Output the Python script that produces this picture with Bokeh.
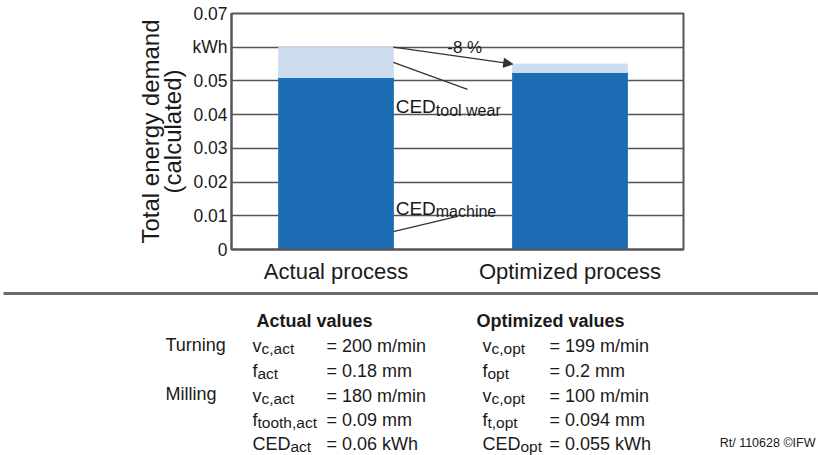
from bokeh.plotting import figure
from bokeh.models import Range1d, FixedTicker, Arrow, NormalHead
from bokeh.layouts import column
from bokeh.embed import file_html
from bokeh.resources import INLINE
from bokeh.core.properties import value

# ---------------- data ----------------
processes = ["Actual process", "Optimized process"]
ced_machine = [0.051, 0.0525]
ced_tool_wear = [0.009, 0.0025]
y_ticks = [0, 0.01, 0.02, 0.03, 0.04, 0.05, 0.06, 0.07]
y_tick_labels = ["0", "0.01", "0.02", "0.03", "0.04", "0.05", "kWh", "0.07"]
reduction_label = "-8 %"

row_labels = ["Turning", "", "Milling", "", ""]
act_sym = ["v", "f", "v", "f", "CED"]
act_sub = ["c,act", "act", "c,act", "tooth,act", "act"]
act_val = ["= 200 m/min", "= 0.18 mm", "= 180 m/min", "= 0.09 mm", "= 0.06 kWh"]
opt_sym = ["v", "f", "v", "f", "CED"]
opt_sub = ["c,opt", "opt", "c,opt", "t,opt", "opt"]
opt_val = ["= 199 m/min", "= 0.2 mm", "= 100 m/min", "= 0.094 mm", "= 0.055 kWh"]
headers = ["Actual values", "Optimized values"]
credit = "Rt/ 110628 \u00a9IFW"

# ---------------- style ----------------
FONT = "Liberation Sans"
INK = "#1a1a1a"
GRID = "#555555"
DARK = "#1c6db4"
LIGHT = "#cedcf0"
EM = {"v": 0.5, "f": 0.278, "CED": 2.111}

xs = list(range(len(processes)))
totals = [m + t for m, t in zip(ced_machine, ced_tool_wear)]
bar_w = 0.49

# ---------------- chart ----------------
W = 818
CH = 290
p = figure(width=W, height=CH, x_range=Range1d(-0.4466, 1.485), y_range=Range1d(0, 0.07),
           output_backend="svg", toolbar_location=None,
           min_border_left=231, min_border_right=135, min_border_top=13, min_border_bottom=41)
p.outline_line_color = GRID
p.outline_line_width = 2

p.vbar(x=xs, width=bar_w, bottom=0, top=ced_machine, fill_color=DARK, line_color=DARK)
p.vbar(x=xs, width=bar_w, bottom=ced_machine, top=totals, fill_color=LIGHT, line_color=LIGHT)

p.yaxis.ticker = FixedTicker(ticks=y_ticks)
p.yaxis.major_label_overrides = dict(zip(y_ticks, y_tick_labels))
p.ygrid.ticker = FixedTicker(ticks=y_ticks)
p.ygrid.grid_line_color = GRID
p.ygrid.grid_line_width = 1.5
p.xgrid.visible = False
p.xaxis.ticker = FixedTicker(ticks=xs)
p.xaxis.major_label_overrides = dict(zip(xs, processes))

for ax in p.axis:
    ax.axis_line_color = GRID
    ax.axis_line_width = 2
    ax.major_tick_line_color = None
    ax.minor_tick_line_color = None
    ax.major_tick_out = 0
    ax.major_tick_in = 0
    ax.minor_tick_out = 0
    ax.minor_tick_in = 0
    ax.major_label_text_font = FONT
    ax.major_label_text_color = INK
p.yaxis.major_label_text_font_size = "17.5px"
p.yaxis.major_label_standoff = 4
p.xaxis.major_label_text_font_size = "22px"
p.xaxis.major_label_standoff = 9
p.yaxis.axis_label = "Total energy demand\n(calculated)"
p.yaxis.axis_label_text_font = FONT
p.yaxis.axis_label_text_font_size = "24px"
p.yaxis.axis_label_text_font_style = "normal"
p.yaxis.axis_label_text_color = INK
p.yaxis.axis_label_text_line_height = 0.8
p.yaxis.axis_label_standoff = 4

# reduction arrow between bar tops
x_right0 = xs[0] + bar_w / 2
x_left1 = xs[1] - bar_w / 2
p.add_layout(Arrow(end=NormalHead(size=9, fill_color="#333333", line_color="#333333", line_width=1),
                   x_start=x_right0, y_start=totals[0], x_end=x_left1, y_end=totals[1],
                   line_color="#333333", line_width=1.3))
p.text(x=[0.55], y=[totals[0]], text=[reduction_label], text_font=value(FONT), text_font_size="17px",
       text_align="center", text_baseline="alphabetic", y_offset=0, text_color=INK)

# leader lines
p.segment(x0=[x_right0, x_right0], y0=[0.0555, 0.0053], x1=[0.562, 0.519], y1=[0.0475, 0.0098],
          line_color="#333333", line_width=1.3)
lab_x = x_right0 + 0.01
p.text(x=[lab_x, lab_x], y=[0.0424, 0.01216], text=["CED", "CED"], text_font=value(FONT),
       text_font_size="19px", text_baseline="alphabetic", text_color=INK)
p.text(x=[lab_x, lab_x], y=[0.0424, 0.01216], text=["tool wear", "machine"], text_font=value(FONT),
       text_font_size="16px", text_baseline="alphabetic", text_color=INK,
       x_offset=EM["CED"] * 19, y_offset=[4, 3])

# ---------------- table ----------------
TH = 455 - CH
t = figure(width=W, height=TH, x_range=Range1d(0, W), y_range=Range1d(TH, 0),
           output_backend="svg", toolbar_location=None, min_border=0,
           x_axis_location=None, y_axis_location=None, outline_line_color=None)
t.grid.visible = False
t.segment(x0=[3], y0=[3], x1=[W], y1=[3], line_color="#6a6a6a", line_width=3)

MAIN = 18
SUB = 15.5
row_y = [55, 80, 105, 129, 153]
label_y = [54, None, 103, None, None]
LBL_X, ACT_SYM_X, ACT_HDR_X, ACT_VAL_X = 165, 252, 256, 326
OPT_HDR_X, OPT_SYM_X, OPT_VAL_X = 476, 482, 549

common = dict(text_font=value(FONT), text_baseline="alphabetic", text_color=INK)
t.text(x=[ACT_HDR_X, OPT_HDR_X], y=[30, 30], text=headers, text_font_size=f"{MAIN}px",
       text_font_style="bold", **common)
lbl_idx = [i for i, s in enumerate(row_labels) if s]
t.text(x=[LBL_X] * len(lbl_idx), y=[label_y[i] for i in lbl_idx], text=[row_labels[i] for i in lbl_idx],
       text_font_size=f"{MAIN}px", **common)

for sym_x, val_x, syms, subs, vals in [(ACT_SYM_X, ACT_VAL_X, act_sym, act_sub, act_val),
                                       (OPT_SYM_X, OPT_VAL_X, opt_sym, opt_sub, opt_val)]:
    n = len(syms)
    t.text(x=[sym_x] * n, y=row_y, text=syms, text_font_size=f"{MAIN}px", **common)
    t.text(x=[sym_x + EM[s] * MAIN for s in syms], y=[y + 3 for y in row_y], text=subs,
           text_font_size=f"{SUB}px", **common)
    t.text(x=[val_x] * n, y=row_y, text=vals, text_font_size=f"{MAIN}px", **common)

t.text(x=[815], y=[row_y[-1] - 1], text=[credit], text_font_size="12.5px", text_align="right", **common)

if "frame_align" in p.properties():
    p.frame_align = False
    t.frame_align = False
    page = column(p, t)
else:
    page = [p, t]
open("out.html", "w").write(file_html(page, INLINE))
